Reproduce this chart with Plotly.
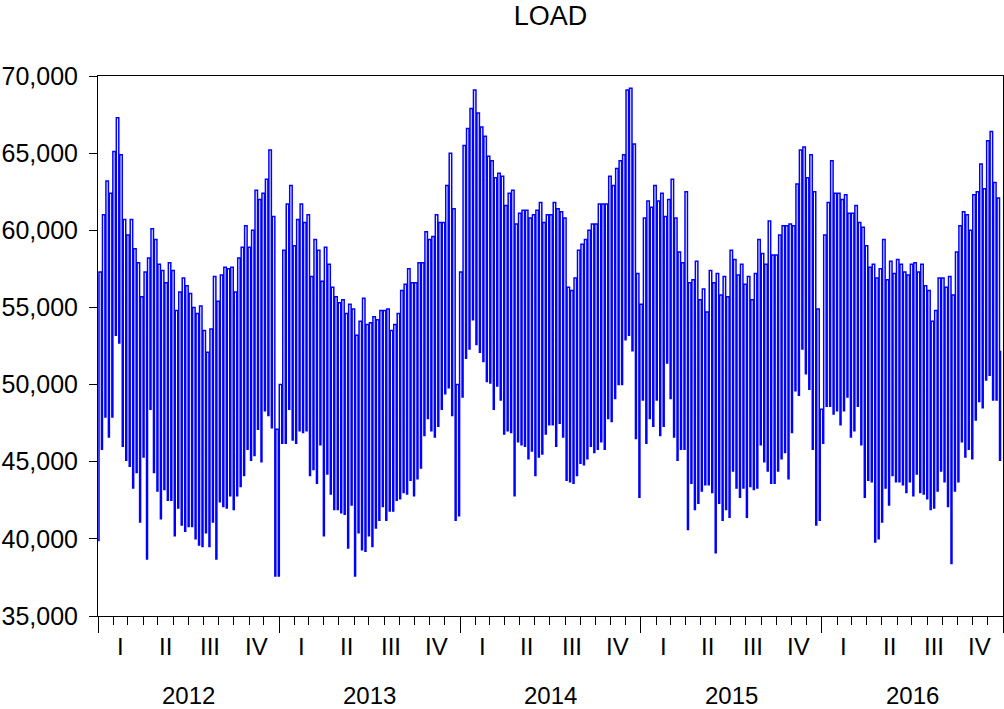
import pandas as pd
import plotly.graph_objects as go

# Weekly highs (weekday level) and lows (weekend / holiday level).
# Week k starts on Sunday 2012-01-01 + 7k days.
start_date = "2012-01-01"
weekly_high = [
    57300, 61000, 63200, 62400, 65100, 67300, 64900, 60700, 59700, 60700,
    58800, 57900, 55700, 57300, 58200, 60100, 59400, 57800, 57400, 56600,
    57900, 57400, 54800, 56000, 56900, 56400, 55900, 55000, 54600, 55100,
    53500, 52100, 53600, 57000, 55400, 57100, 57600, 57500, 57600, 56000,
    58200, 58900, 60300, 58900, 60000, 62600, 62000, 62400, 63300, 65200,
    60900, 47100, 50000, 58700, 61700, 62900, 59000, 60700, 61700, 60500,
    61000, 57000, 59400, 58700, 56700, 58900, 57800, 56300, 55700, 55300,
    55500, 54600, 55200, 54900, 53200, 54100, 55600, 53900, 54000, 54400,
    54200, 54800, 54800, 54900, 53500, 53900, 54600, 56100, 56500, 57500,
    56600, 56600, 57900, 57900, 59900, 59400, 59600, 61000, 60500, 60500,
    62900, 65000, 61400, 50000, 57300, 65500, 66600, 67900, 69100, 67600,
    66700, 66100, 64800, 64500, 63400, 63700, 63500, 61600, 62400, 62600,
    60400, 61100, 61300, 61300, 60800, 61000, 61300, 61800, 60500, 61000,
    61000, 61800, 61400, 61200, 60800, 56300, 56100, 56900, 58700, 59100,
    59400, 60000, 60400, 60400, 61700, 61700, 61700, 63500, 62900, 64000,
    64500, 64900, 69100, 69200, 65600, 57200, 55200, 60800, 61900, 61500,
    62900, 61900, 62400, 60900, 62000, 63300, 60800, 58600, 57900, 62500,
    56600, 56800, 58000, 55500, 56200, 54700, 57400, 56600, 57200, 55800,
    57000, 55700, 58700, 58100, 57100, 57800, 56500, 57000, 55500, 57200,
    59400, 58500, 57800, 60600, 58400, 58400, 59700, 60300, 60300, 60400,
    60300, 63000, 65200, 65400, 63400, 64900, 62500, 54900, 48400, 59700,
    61800, 64500, 62400, 62400, 62000, 62300, 61100, 61100, 61600, 60500,
    60200, 59000, 57600, 57800, 56900, 57500, 59400, 56800, 58000, 57200,
    58100, 57800, 57300, 57100, 57800, 57900, 57300, 57800, 56400, 56100,
    54100, 54800, 56900, 56900, 56300, 57000, 55800, 58600, 60300, 61200,
    61000, 60000, 62300, 62500, 64300, 62700, 65800, 66400, 63100, 62100,
    52200,
]
weekly_low = [
    39900, 45800, 47900, 46600, 47900, 53200, 52700, 46000, 45100, 44700,
    43300, 44300, 41100, 45300, 38700, 48400, 44300, 43100, 41300, 43200,
    42500, 42500, 40200, 42000, 40900, 40500, 40800, 40800, 40000, 39600,
    39500, 40400, 39500, 41100, 38700, 42400, 42100, 42000, 42800, 41900,
    42800, 43400, 44100, 45800, 45100, 45400, 47100, 45000, 48300, 48000,
    47200, 37600, 37600, 46200, 46200, 48400, 46400, 46200, 47000, 46900,
    47000, 44100, 44500, 43600, 46100, 40200, 44200, 42900, 41900, 41900,
    41700, 41600, 39400, 42200, 37600, 40400, 39300, 39200, 40200, 39500,
    40700, 41200, 42100, 41200, 41800, 41800, 42500, 42600, 43000, 42900,
    43800, 42800, 43900, 44600, 46700, 47800, 47000, 46600, 47300, 48400,
    49400, 49800, 48000, 41200, 41500, 49200, 51700, 52300, 54200, 52600,
    52100, 51500, 50200, 50100, 48400, 49900, 49000, 46800, 47000, 46900,
    42800, 46300, 46100, 46000, 45200, 45700, 44100, 45300, 45500, 46800,
    47400, 47400, 46000, 47500, 46600, 43800, 43700, 43600, 44100, 44900,
    44800, 45200, 46000, 45600, 45800, 46300, 45800, 47800, 47600, 49100,
    50000, 50000, 52900, 53200, 52200, 46500, 42700, 49000, 46200, 47800,
    47300, 49000, 46700, 47300, 51400, 49100, 46600, 45100, 45800, 45800,
    40600, 43600, 41900, 42300, 43100, 43500, 43500, 43000, 39100, 42300,
    41200, 41900, 41400, 44400, 43300, 42700, 43300, 41400, 43400, 43200,
    43300, 46100, 45000, 44400, 43600, 43600, 44400, 45200, 45600, 43900,
    46900, 49600, 49300, 52300, 50700, 49700, 45800, 40900, 41200, 46200,
    48600, 48600, 48100, 48300, 47400, 48300, 49200, 46600, 47000, 48600,
    46100, 42700, 43800, 43700, 39800, 40000, 41100, 43300, 42200, 44100,
    43700, 43700, 43500, 43000, 43700, 42800, 44200, 43000, 42900, 42600,
    41900, 42000, 43100, 44400, 43700, 42100, 38400, 43100, 43700, 46300,
    45300, 45800, 45200, 47700, 48900, 48500, 50300, 50600, 49000, 49000,
    45100,
]
years = ["2012", "2013", "2014", "2015", "2016"]
quarter_labels = ["I", "II", "III", "IV"]
y_ticks = [35000, 40000, 45000, 50000, 55000, 60000, 65000, 70000]

FONT = "Liberation Sans, Arial, sans-serif"

# Low on each week's Sunday, weekday level from Tuesday; drawn as a step line
# so each weekly swing is a near-vertical stroke, as in the reference.
week_starts = pd.date_range(start_date, periods=len(weekly_high), freq="7D")
xs, ys = [], []
for d, lo, hi in zip(week_starts, weekly_low, weekly_high):
    xs += [d, d + pd.Timedelta(days=2)]
    ys += [lo, hi]

fig = go.Figure()
fig.add_trace(go.Scatter(x=xs, y=ys, mode="lines",
                         line=dict(color="#0000FF", width=1.5, shape="hv"),
                         hoverinfo="skip", showlegend=False))

year_starts = [f"{y}-01-01" for y in years] + [f"{int(years[-1]) + 1}-01-01"]
x_range = [year_starts[0], year_starts[-1]]

annotations = []
for y in years:
    annotations.append(dict(x=f"{y}-07-02", y=0, xref="x", yref="paper",
                            yanchor="middle", yshift=-79, showarrow=False,
                            text=y, font=dict(family=FONT, size=24, color="black")))
    for qi, q in enumerate(quarter_labels):
        mid = pd.Timestamp(f"{y}-{3 * qi + 1:02d}-01") + pd.Timedelta(days=45)
        annotations.append(dict(x=mid, y=0, xref="x", yref="paper",
                                yanchor="middle", yshift=-30, showarrow=False,
                                text=q, font=dict(family=FONT, size=24, color="black")))

fig.update_layout(
    width=1004, height=709,
    margin=dict(l=98, r=1, t=76, b=93, autoexpand=False),
    paper_bgcolor="white", plot_bgcolor="white",
    title=dict(text="LOAD", x=0.5, xref="paper", xanchor="center",
               y=1 - 16 / 709, yref="container", yanchor="middle",
               font=dict(family=FONT, size=27, color="black")),
    annotations=annotations,
    font=dict(family=FONT, color="black"),
)
fig.update_xaxes(
    type="date", range=x_range,
    tickvals=year_starts, ticktext=[""] * len(year_starts),
    ticks="outside", ticklen=16, tickcolor="black", tickwidth=1,
    minor=dict(dtick="M1", tick0=year_starts[0], ticks="outside", ticklen=8,
               tickcolor="black", tickwidth=1, showgrid=False),
    showgrid=False, zeroline=False, automargin=False,
    showline=True, linecolor="black", linewidth=1, mirror=True,
)
fig.update_yaxes(
    range=[35000, 70000], tickvals=y_ticks,
    ticktext=[f"{v:,}" for v in y_ticks],
    ticks="outside", ticklen=8, tickcolor="black", tickwidth=1,
    tickfont=dict(family=FONT, size=25, color="black"),
    ticklabelstandoff=6, automargin=False,
    showgrid=False, zeroline=False,
    showline=True, linecolor="black", linewidth=1, mirror=True,
)

fig.write_html("out.html")
